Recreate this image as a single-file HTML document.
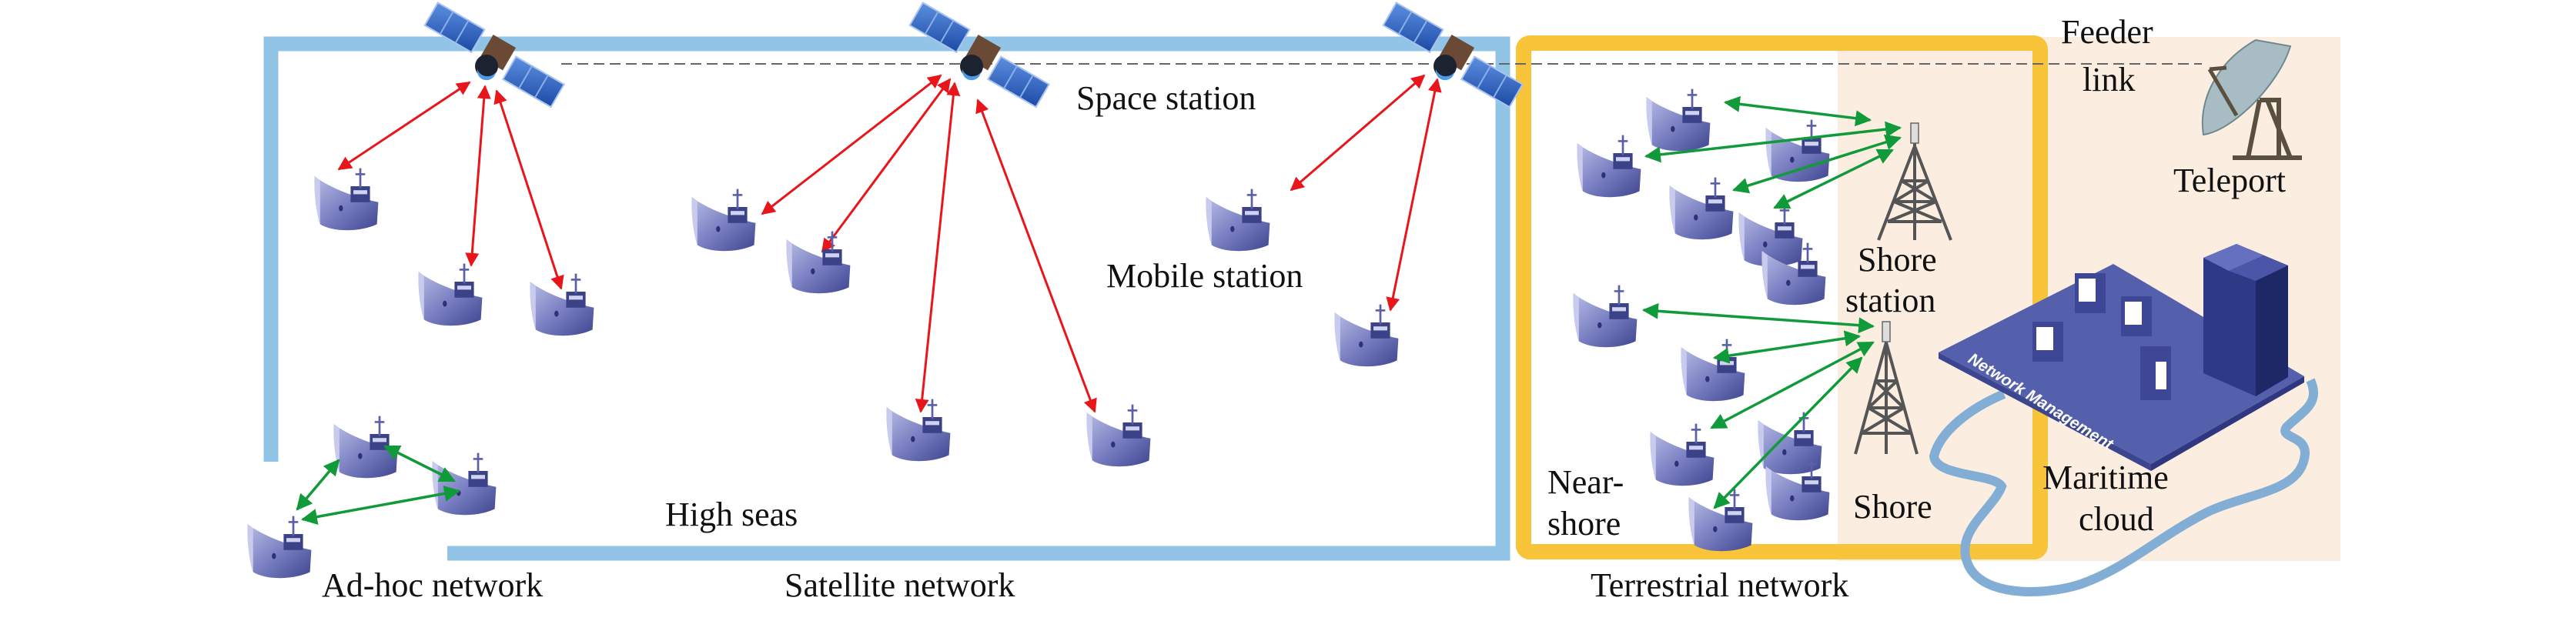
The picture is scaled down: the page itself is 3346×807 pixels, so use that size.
<!DOCTYPE html>
<html><head><meta charset="utf-8"><style>
html,body{margin:0;padding:0;background:#fff;}
svg{display:block;}
</style></head><body>
<svg width="3346" height="807" viewBox="0 0 3346 807" xmlns="http://www.w3.org/2000/svg">
<defs>
<linearGradient id="hull" x1="0" y1="0" x2="1" y2="1">
<stop offset="0" stop-color="#b9bde6"/><stop offset="0.5" stop-color="#7a80c2"/><stop offset="1" stop-color="#3f4690"/></linearGradient>
<linearGradient id="panel" x1="0" y1="0" x2="1" y2="1">
<stop offset="0" stop-color="#5c8fe0"/><stop offset="1" stop-color="#1c4aa5"/></linearGradient>
<marker id="ar" viewBox="0 0 10 10" refX="9" refY="5" markerWidth="6" markerHeight="6" orient="auto-start-reverse"><path d="M0,0 L10,5 L0,10 z" fill="#e8161b"/></marker>
<marker id="ag" viewBox="0 0 10 10" refX="9" refY="5" markerWidth="6" markerHeight="6" orient="auto-start-reverse"><path d="M0,0 L10,5 L0,10 z" fill="#119a3a"/></marker>
<g id="ship0">
<path d="M4,10 L12,14 C40,26 70,32 96,36 L94,58 C70,66 30,66 12,58 C6,45 3,25 4,10 Z" fill="url(#hull)"/>
<path d="M4,10 L12,14 L12,58 C6,45 3,25 4,10Z" fill="#c8cbee"/>
<rect x="56" y="20" width="28" height="16" fill="#3b4288"/>
<rect x="60" y="24" width="20" height="4" fill="#d0d3f0"/>
<line x1="70" y1="2" x2="70" y2="22" stroke="#5a60a8" stroke-width="3"/>
<line x1="63" y1="8" x2="77" y2="8" stroke="#5a60a8" stroke-width="2"/>
<circle cx="42" cy="42" r="3" fill="#2c3275"/>
</g>
<g id="ship"><use href="#ship0" transform="translate(0,-12) scale(0.9,1.3)"/></g>
<g id="sat">
<g transform="rotate(30)">
<rect x="-95" y="-22" width="70" height="34" fill="url(#panel)" stroke="#a9c4ee" stroke-width="2"/>
<line x1="-72" y1="-22" x2="-72" y2="12" stroke="#8ab0ea" stroke-width="2"/>
<line x1="-49" y1="-22" x2="-49" y2="12" stroke="#8ab0ea" stroke-width="2"/>
<rect x="28" y="-12" width="72" height="34" fill="url(#panel)" stroke="#a9c4ee" stroke-width="2"/>
<line x1="52" y1="-12" x2="52" y2="22" stroke="#8ab0ea" stroke-width="2"/>
<line x1="76" y1="-12" x2="76" y2="22" stroke="#8ab0ea" stroke-width="2"/>
<rect x="-12" y="-22" width="34" height="34" fill="#6b4a35"/>
</g>
<circle cx="-8" cy="16" r="15" fill="#1d2230"/>
<path d="M-20,20 A14,14 0 0 0 4,24 A10,10 0 0 1 -20,20Z" fill="#4d9be6"/>
</g>
</defs>

<rect x="2387" y="48" width="653" height="681" fill="#fbeee0"/>
<path d="M352,600 L352,57 L1952,57 L1952,719 L581,719" fill="none" stroke="#92c4e8" stroke-width="19"/>
<rect x="1979" y="56" width="671" height="661" rx="8" fill="none" stroke="#f8c43a" stroke-width="20"/>
<line x1="729" y1="83" x2="2860" y2="83" stroke="#666" stroke-width="2" stroke-dasharray="14,7"/>

<use href="#sat" x="640" y="70"/>
<use href="#sat" x="1270" y="70"/>
<use href="#sat" x="1885" y="70"/>

<g stroke="#e8161b" stroke-width="3" fill="none" marker-start="url(#ar)" marker-end="url(#ar)">
<line x1="610" y1="107" x2="440" y2="220"/>
<line x1="630" y1="112" x2="612" y2="345"/>
<line x1="645" y1="118" x2="729" y2="375"/>
<line x1="1222" y1="98" x2="990" y2="278"/>
<line x1="1234" y1="103" x2="1068" y2="327"/>
<line x1="1240" y1="108" x2="1196" y2="535"/>
<line x1="1270" y1="130" x2="1422" y2="535"/>
<line x1="1850" y1="98" x2="1677" y2="247"/>
<line x1="1867" y1="103" x2="1806" y2="403"/>
</g>

<g>
<use href="#ship" x="405" y="228"/>
<use href="#ship" x="540" y="352"/>
<use href="#ship" x="685" y="365"/>
<use href="#ship" x="430" y="550"/>
<use href="#ship" x="558" y="598"/>
<use href="#ship" x="318" y="680"/>
<use href="#ship" x="895" y="255"/>
<use href="#ship" x="1018" y="310"/>
<use href="#ship" x="1148" y="528"/>
<use href="#ship" x="1408" y="535"/>
<use href="#ship" x="1563" y="255"/>
<use href="#ship" x="1730" y="405"/>
<use href="#ship" x="2135" y="125"/>
<use href="#ship" x="2045" y="185"/>
<use href="#ship" x="2290" y="165"/>
<use href="#ship" x="2165" y="240"/>
<use href="#ship" x="2255" y="275"/>
<use href="#ship" x="2285" y="325"/>
<use href="#ship" x="2040" y="380"/>
<use href="#ship" x="2180" y="450"/>
<use href="#ship" x="2140" y="560"/>
<use href="#ship" x="2280" y="545"/>
<use href="#ship" x="2290" y="605"/>
<use href="#ship" x="2190" y="645"/>
</g>

<g stroke="#119a3a" stroke-width="3.5" fill="none" marker-start="url(#ag)" marker-end="url(#ag)">
<line x1="500" y1="580" x2="590" y2="625"/>
<line x1="440" y1="598" x2="386" y2="662"/>
<line x1="596" y1="638" x2="393" y2="675"/>
<line x1="2241" y1="133" x2="2429" y2="156"/>
<line x1="2468" y1="166" x2="2138" y2="203"/>
<line x1="2468" y1="179" x2="2252" y2="247"/>
<line x1="2458" y1="195" x2="2305" y2="270"/>
<line x1="2135" y1="403" x2="2433" y2="424"/>
<line x1="2415" y1="437" x2="2227" y2="465"/>
<line x1="2433" y1="445" x2="2223" y2="556"/>
<line x1="2418" y1="465" x2="2227" y2="660"/>
</g>

<g stroke="#555" stroke-width="4" fill="none">
<path d="M2487,190 L2440,312 M2487,190 L2534,312 M2487,175 L2487,312 M2470,235 L2505,235 M2460,262 L2515,262 M2452,288 L2522,288 M2470,235 L2515,262 M2505,235 L2460,262 M2460,262 L2522,288 M2515,262 L2452,288"/>
<path d="M2450,445 L2410,590 M2450,445 L2490,590 M2450,430 L2450,590 M2436,495 L2464,495 M2427,530 L2473,530 M2418,563 L2482,563 M2436,495 L2473,530 M2464,495 L2427,530 M2427,530 L2482,563 M2473,530 L2418,563"/>
</g>
<rect x="2482" y="160" width="10" height="26" fill="#ddd" stroke="#666" stroke-width="1.5"/>
<rect x="2445" y="418" width="10" height="26" fill="#ddd" stroke="#666" stroke-width="1.5"/>

<path d="M2930,52 C2880,80 2855,130 2862,175 C2900,170 2960,110 2975,60 Z" fill="#a8bcc4" stroke="#6f8890" stroke-width="2"/>
<path d="M2870,90 L2905,150 M2870,90 L2892,88" stroke="#5a5040" stroke-width="5"/>
<path d="M2935,130 L2920,205 M2945,130 L2975,205 M2935,130 L2960,130 L2960,205 M2900,205 L2990,205" stroke="#5a5040" stroke-width="6" fill="none"/>

<path d="M2603,512 C2560,530 2520,560 2512,593 C2515,620 2590,615 2600,632 C2590,660 2540,690 2555,730 C2570,775 2650,775 2700,760 C2760,740 2800,700 2866,666 C2920,640 2990,640 2994,590 C2995,565 2960,570 2970,555 C2990,535 3015,525 3001,494" fill="none" stroke="#82aed6" stroke-width="12"/>

<polygon points="2518,458 2745,343 2993,489 2794,603" fill="#5560ad"/>
<polygon points="2518,458 2794,603 2794,612 2518,466" fill="#3c468f"/>
<polygon points="2794,603 2993,489 2993,497 2794,612" fill="#2e3780"/>
<g fill="#3d4796">
<rect x="2695" y="355" width="40" height="52"/>
<rect x="2755" y="385" width="40" height="52"/>
<rect x="2640" y="418" width="40" height="52"/>
<rect x="2780" y="450" width="40" height="70"/>
</g>
<g fill="#fff">
<rect x="2700" y="362" width="22" height="30"/>
<rect x="2760" y="392" width="22" height="30"/>
<rect x="2645" y="425" width="22" height="30"/>
<rect x="2800" y="470" width="14" height="36"/>
</g>
<polygon points="2862,335 2905,317 2972,345 2972,490 2930,515 2862,485" fill="#2f3a86"/>
<polygon points="2862,335 2905,317 2940,332 2895,352" fill="#6670c0"/>
<polygon points="2895,352 2940,332 2972,345 2930,365" fill="#4c56a8"/>
<polygon points="2930,365 2972,345 2972,490 2930,515" fill="#1f2866"/>
<text x="0" y="0" transform="translate(2555,470) rotate(32)" font-family="Liberation Sans, sans-serif" font-size="21" font-weight="bold" font-style="italic" fill="#fff">Network Management</text>

<g font-family="Liberation Serif, serif" font-size="44" fill="#111">
<text x="1398" y="142">Space station</text>
<text x="1437" y="373">Mobile station</text>
<text x="864" y="683">High seas</text>
<text x="418" y="775">Ad-hoc network</text>
<text x="1019" y="775">Satellite network</text>
<text x="2066" y="775">Terrestrial network</text>
<text x="2677" y="56">Feeder</text>
<text x="2705" y="118">link</text>
<text x="2823" y="249">Teleport</text>
<text x="2413" y="352">Shore</text>
<text x="2397" y="405">station</text>
<text x="2010" y="641">Near-</text>
<text x="2010" y="695">shore</text>
<text x="2407" y="673">Shore</text>
<text x="2653" y="635">Maritime</text>
<text x="2700" y="689">cloud</text>
</g>
</svg>
</body></html>
